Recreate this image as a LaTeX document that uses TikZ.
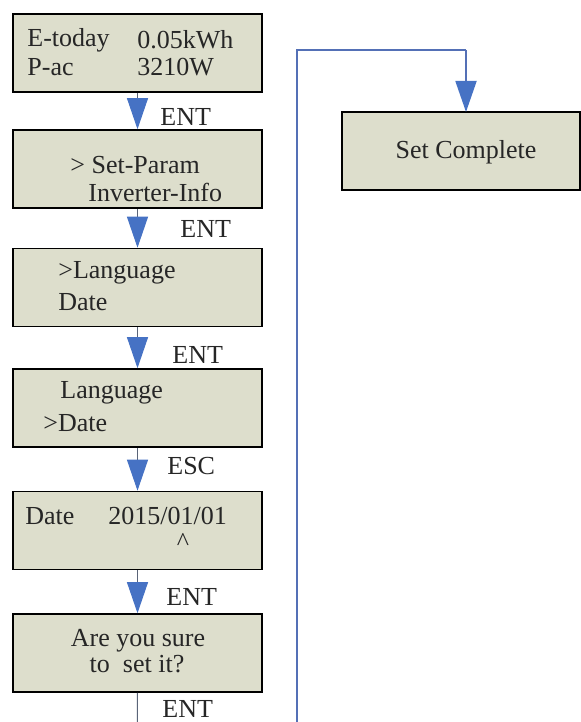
\documentclass[tikz,border=0pt]{standalone}
\usepackage{fontspec}
\setmainfont{Liberation Serif}
\usetikzlibrary{arrows.meta}
\definecolor{boxfill}{RGB}{221,222,204}
\definecolor{arrowblue}{RGB}{70,114,196}
\definecolor{lineblue}{RGB}{84,112,182}
\definecolor{linegray}{RGB}{90,100,120}
\begin{document}
\begin{tikzpicture}[x=0.5pt,y=-0.5pt,
  screen/.style={draw=black,line width=0.8pt,fill=boxfill,minimum width=124.5pt,minimum height=39pt,inner sep=0pt},
  txt/.style={font=\fontsize{13}{15}\selectfont,inner sep=0pt,text=black!85},
  lbl/.style={font=\fontsize{13}{15}\selectfont,inner sep=0pt,anchor=west,text=black!85},
  bluetip/.style={-{Triangle[width=10.5pt,length=15.5pt,color=arrowblue,fill=arrowblue]}},
  conn/.style={draw=linegray,line width=0.5pt,bluetip},
  loopline/.style={draw=lineblue,line width=0.9pt}]
\useasboundingbox (0,0) rectangle (581,722);
\clip (0,0) rectangle (581,722);
% screens
\node[screen] (b1) at (137.5,53) {};
\node[screen] (b2) at (137.5,169) {};
\node[screen] (b3) at (137.5,287.5) {};
\node[screen] (b4) at (137.5,408) {};
\node[screen] (b5) at (137.5,530.5) {};
\node[screen] (b6) at (137.5,653) {};
\node[screen,minimum width=119pt] (sc) at (461,151) {};
% texts
\node[txt,anchor=west] (t1a) at (27,40) {E-today};
\node[txt,anchor=west] (t1b) at (137,40) {0.05kWh};
\node[txt,anchor=west] (t1c) at (27,67) {P-ac};
\node[txt,anchor=west] (t1d) at (137,67) {3210W};
\node[txt,anchor=west] (t2a) at (70,165) {> Set-Param};
\node[txt,anchor=west] (t2b) at (88,192) {Inverter-Info};
\node[txt,anchor=west] (t3a) at (58,273) {>Language};
\node[txt,anchor=west] (t3b) at (58,302) {Date};
\node[txt,anchor=west] (t4a) at (60,393) {Language};
\node[txt,anchor=west] (t4b) at (43,423) {>Date};
\node[txt,anchor=west] (t5a) at (25,516) {Date};
\node[txt,anchor=west] (t5b) at (108,516) {2015/01/01};
\node[txt] (t5c) at (183,542) {\textasciicircum};
\node[txt] (t6a) at (138,641) {Are you sure};
\node[txt] (t6b) at (137,664) {to\ \ set it?};
\node[txt] (tsc) at (466,152) {Set Complete};
% connectors
\draw[conn] (b1.south) -- (b2.north);
\draw[conn] (b2.south) -- (b3.north);
\draw[conn] (b3.south) -- (b4.north);
\draw[conn] (b4.south) -- (b5.north);
\draw[conn] (b5.south) -- (b6.north);
\coordinate (d1) at (137,760);
\coordinate (d2) at (297,760);
\coordinate (up) at (297,50);
\coordinate (over) at (466,50);
\coordinate (sctop) at (466,112);
\draw[draw=linegray,line width=0.5pt] (b6.south) -- (d1);
\draw[loopline] (d1) -- (d2) -- (up) -- (over);
\draw[loopline,bluetip] (over) -- (sctop);
% labels
\node[lbl] (l1) at (160,117) {ENT};
\node[lbl] (l2) at (180,229) {ENT};
\node[lbl] (l3) at (172,355) {ENT};
\node[lbl] (l4) at (167,466) {ESC};
\node[lbl] (l5) at (166,597) {ENT};
\node[lbl] (l6) at (162,709) {ENT};
\end{tikzpicture}
\end{document}
